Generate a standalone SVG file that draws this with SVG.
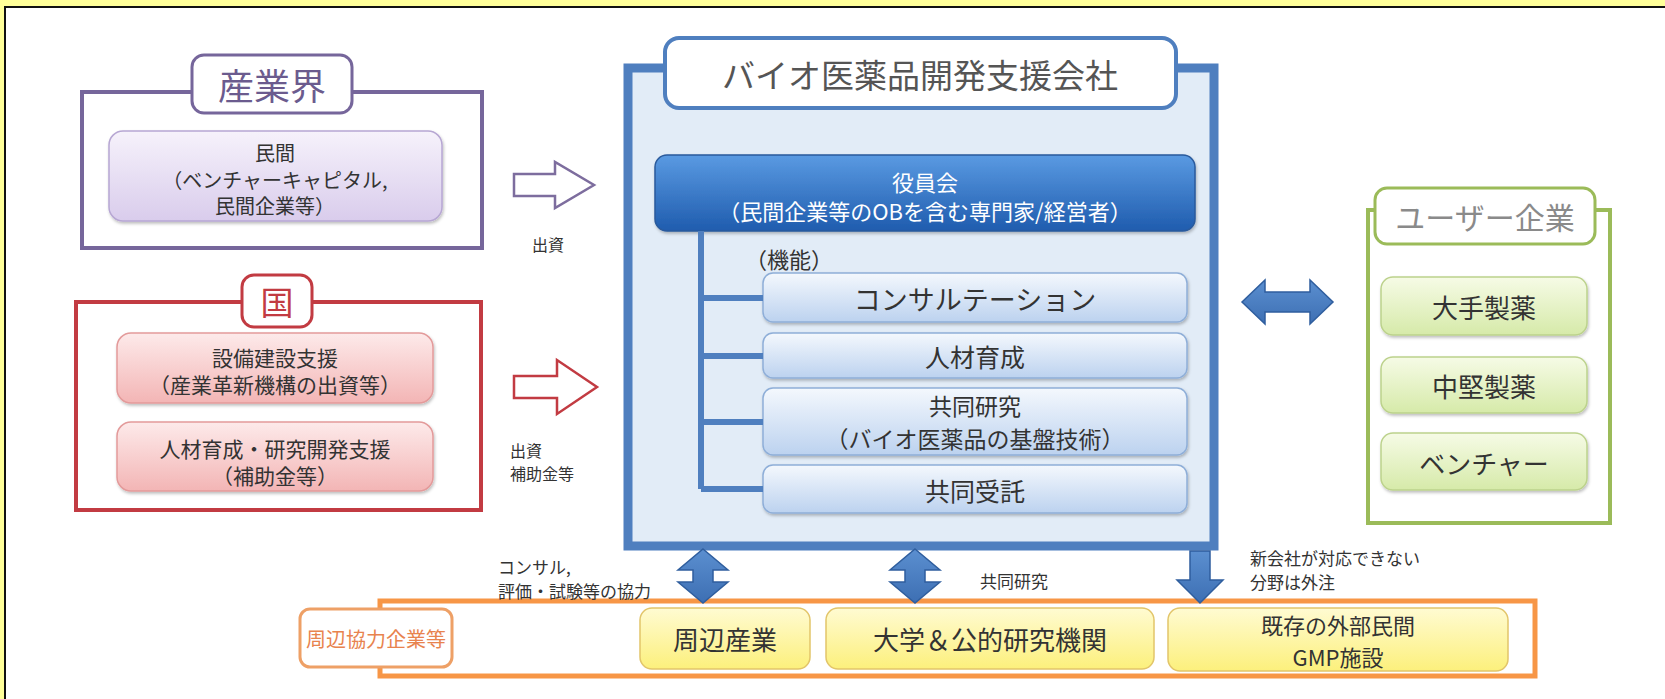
<svg xmlns="http://www.w3.org/2000/svg" width="1665" height="699" viewBox="0 0 1665 699">
<defs>
<linearGradient id="gPurple" x1="0" y1="0" x2="0" y2="1"><stop offset="0" stop-color="#f6f2fb"/><stop offset="1" stop-color="#d9ccec"/></linearGradient>
<linearGradient id="gPink" x1="0" y1="0" x2="0" y2="1"><stop offset="0" stop-color="#fdeaea"/><stop offset="1" stop-color="#f3b5b5"/></linearGradient>
<linearGradient id="gBlue" x1="0" y1="0" x2="0" y2="1"><stop offset="0" stop-color="#f4f8fd"/><stop offset="1" stop-color="#bcd2ef"/></linearGradient>
<linearGradient id="gDark" x1="0" y1="0" x2="0" y2="1"><stop offset="0" stop-color="#5a9ae2"/><stop offset="1" stop-color="#1f5cae"/></linearGradient>
<linearGradient id="gGreen" x1="0" y1="0" x2="0" y2="1"><stop offset="0" stop-color="#f6fbe6"/><stop offset="1" stop-color="#d6eaa9"/></linearGradient>
<linearGradient id="gYellow" x1="0" y1="0" x2="0" y2="1"><stop offset="0" stop-color="#fffbd2"/><stop offset="1" stop-color="#fcf07c"/></linearGradient>
<linearGradient id="gArrow" x1="0" y1="0" x2="0" y2="1"><stop offset="0" stop-color="#5b8fd0"/><stop offset="1" stop-color="#3d6fb3"/></linearGradient>
<filter id="sh" x="-10%" y="-10%" width="120%" height="130%"><feDropShadow dx="1" dy="2" stdDeviation="1.5" flood-color="#000" flood-opacity="0.25"/></filter>
</defs>
<style>
text{font-family:"Noto Sans CJK JP","Noto Sans",sans-serif;text-anchor:middle;dominant-baseline:central;fill:#333}
.l{text-anchor:start}
.lbl{fill:#fff;stroke-width:3}
.inP{fill:url(#gPurple);stroke:#b7a7d3;stroke-width:1.5}
.inR{fill:url(#gPink);stroke:#e39a9a;stroke-width:1.5}
.inB{fill:url(#gBlue);stroke:#8eaed8;stroke-width:1.5}
.inG{fill:url(#gGreen);stroke:#bcd28c;stroke-width:1.5}
.inY{fill:url(#gYellow);stroke:#e2c56a;stroke-width:1.5}
.ba{fill:url(#gArrow);stroke:#2f5e9e;stroke-width:1.5}
.small{font-size:17px}
</style>
<rect x="0" y="0" width="1665" height="699" fill="#fff"/>
<rect x="0" y="0" width="1665" height="6" fill="#ffff99"/>
<rect x="0" y="0" width="4" height="699" fill="#ffff99"/>
<rect x="4" y="6" width="1661" height="2" fill="#111"/>
<rect x="4" y="6" width="2" height="693" fill="#111"/>

<g id="industry">
<rect x="82" y="92" width="400" height="156" fill="#fff" stroke="#76669b" stroke-width="4"/>
<rect x="192" y="55" width="160" height="58" rx="12" class="lbl" stroke="#76669b"/>
<text x="272" y="84" style="font-size:36px;fill:#6b5b8e">産業界</text>
<rect x="109" y="131" width="333" height="90" rx="14" class="inP" filter="url(#sh)"/>
<text x="275" y="152" style="font-size:20px">民間</text>
<text x="275" y="179" style="font-size:20px">（ベンチャーキャピタル,</text>
<text x="275" y="205" style="font-size:20px">民間企業等）</text>
</g>

<g id="country">
<rect x="76" y="302" width="405" height="208" fill="#fff" stroke="#c23b42" stroke-width="4"/>
<rect x="242" y="275" width="70" height="52" rx="12" class="lbl" stroke="#c23b42"/>
<text x="277" y="301" style="font-size:33px;fill:#c23b42">国</text>
<rect x="117" y="333" width="316" height="70" rx="14" class="inR" filter="url(#sh)"/>
<text x="275" y="357" style="font-size:21px">設備建設支援</text>
<text x="275" y="384" style="font-size:21px">（産業革新機構の出資等）</text>
<rect x="117" y="422" width="316" height="69" rx="14" class="inR" filter="url(#sh)"/>
<text x="275" y="448" style="font-size:21px">人材育成・研究開発支援</text>
<text x="275" y="475" style="font-size:21px">（補助金等）</text>
</g>

<g id="company">
<rect x="628" y="68" width="586" height="478" fill="#e2ecf7" stroke="#4f7fbf" stroke-width="9"/>
<rect x="665" y="38" width="511" height="70" rx="14" fill="#fff" stroke="#4f7fbf" stroke-width="4"/>
<text x="920" y="74" style="font-size:33px;fill:#555">バイオ医薬品開発支援会社</text>
<rect x="655" y="155" width="540" height="76" rx="12" fill="url(#gDark)" stroke="#2a5a9c" stroke-width="1.5" filter="url(#sh)"/>
<text x="925" y="181" style="font-size:22px;fill:#fff">役員会</text>
<text x="925" y="210" style="font-size:22px;fill:#fff">（民間企業等のOBを含む専門家/経営者）</text>
<text x="745" y="258" class="l" style="font-size:22px">（機能）</text>
</g>

<g id="func-consult">
<rect x="763" y="273" width="424" height="49" rx="10" class="inB" filter="url(#sh)"/>
<text x="975" y="298" style="font-size:27px">コンサルテーション</text>
</g>
<g id="func-hr">
<rect x="763" y="333" width="424" height="45" rx="10" class="inB" filter="url(#sh)"/>
<text x="975" y="356" style="font-size:25px">人材育成</text>
</g>
<g id="func-research">
<rect x="763" y="388" width="424" height="67" rx="10" class="inB" filter="url(#sh)"/>
<text x="975" y="405" style="font-size:23px">共同研究</text>
<text x="975" y="438" style="font-size:23px">（バイオ医薬品の基盤技術）</text>
</g>
<g id="func-contract">
<rect x="763" y="465" width="424" height="48" rx="10" class="inB" filter="url(#sh)"/>
<text x="975" y="490" style="font-size:25px">共同受託</text>
</g>

<g id="users">
<rect x="1368" y="210" width="242" height="313" fill="#fff" stroke="#9bbb59" stroke-width="4"/>
<rect x="1375" y="188" width="220" height="56" rx="12" class="lbl" stroke="#9bbb59"/>
<text x="1485" y="216" style="font-size:30px;fill:#8a8a8a">ユーザー企業</text>
<rect x="1381" y="277" width="206" height="58" rx="12" class="inG" filter="url(#sh)"/>
<text x="1484" y="306" style="font-size:26px">大手製薬</text>
<rect x="1381" y="357" width="206" height="56" rx="12" class="inG" filter="url(#sh)"/>
<text x="1484" y="385" style="font-size:26px">中堅製薬</text>
<rect x="1381" y="433" width="206" height="57" rx="12" class="inG" filter="url(#sh)"/>
<text x="1484" y="462" style="font-size:26px">ベンチャー</text>
</g>

<g id="partners">
<rect x="380" y="601" width="1155" height="75" fill="#fff" stroke="#f79646" stroke-width="5"/>
<rect x="300" y="609" width="152" height="58" rx="10" fill="#fff" stroke="#eea066" stroke-width="3"/>
<text x="376" y="638" style="font-size:20px;fill:#e8834e">周辺協力企業等</text>
</g>
<g id="p-industry">
<rect x="640" y="608" width="170" height="61" rx="12" class="inY"/>
<text x="725" y="638" style="font-size:26px">周辺産業</text>
</g>
<g id="p-univ">
<rect x="826" y="608" width="328" height="61" rx="12" class="inY"/>
<text x="990" y="638" style="font-size:26px">大学＆公的研究機関</text>
</g>
<g id="p-gmp">
<rect x="1168" y="608" width="340" height="63" rx="12" class="inY"/>
<text x="1338" y="624" style="font-size:22px">既存の外部民間</text>
<text x="1338" y="656" style="font-size:22px">GMP施設</text>
</g>

<g id="connectors">
<path d="M701,231 V489 M701,298 H763 M701,356 H763 M701,422 H763 M701,489 H763" fill="none" stroke="#4f7fbf" stroke-width="6"/>
<path d="M514,174 H555 V162 L594,185 L555,208 V196 H514 Z" fill="#fff" stroke="#7d6d9e" stroke-width="2.5"/>
<text x="548" y="244" style="font-size:16px">出資</text>
<path d="M514,376 H557 V360 L597,387 L557,414 V398 H514 Z" fill="#fff" stroke="#c23b42" stroke-width="2.5"/>
<text x="510" y="450" class="l" style="font-size:16px">出資</text>
<text x="510" y="473" class="l" style="font-size:16px">補助金等</text>
<path d="M1242,302 L1265,280 V292 H1310 V280 L1333,302 L1310,324 V312 H1265 V324 Z" class="ba"/>
<path d="M703,549 L728,570 H713 V582 H728 L703,603 L678,582 H693 V570 H678 Z" class="ba"/>
<path d="M915,549 L940,570 H925 V582 H940 L915,603 L890,582 H905 V570 H890 Z" class="ba"/>
<path d="M1190,551 H1210 V580 H1223 L1200,603 L1177,580 H1190 Z" class="ba"/>
<text x="498" y="566" class="l small">コンサル,</text>
<text x="498" y="590" class="l small">評価・試験等の協力</text>
<text x="980" y="580" class="l small">共同研究</text>
<text x="1250" y="557" class="l small">新会社が対応できない</text>
<text x="1250" y="581" class="l small">分野は外注</text>
</g>
</svg>
